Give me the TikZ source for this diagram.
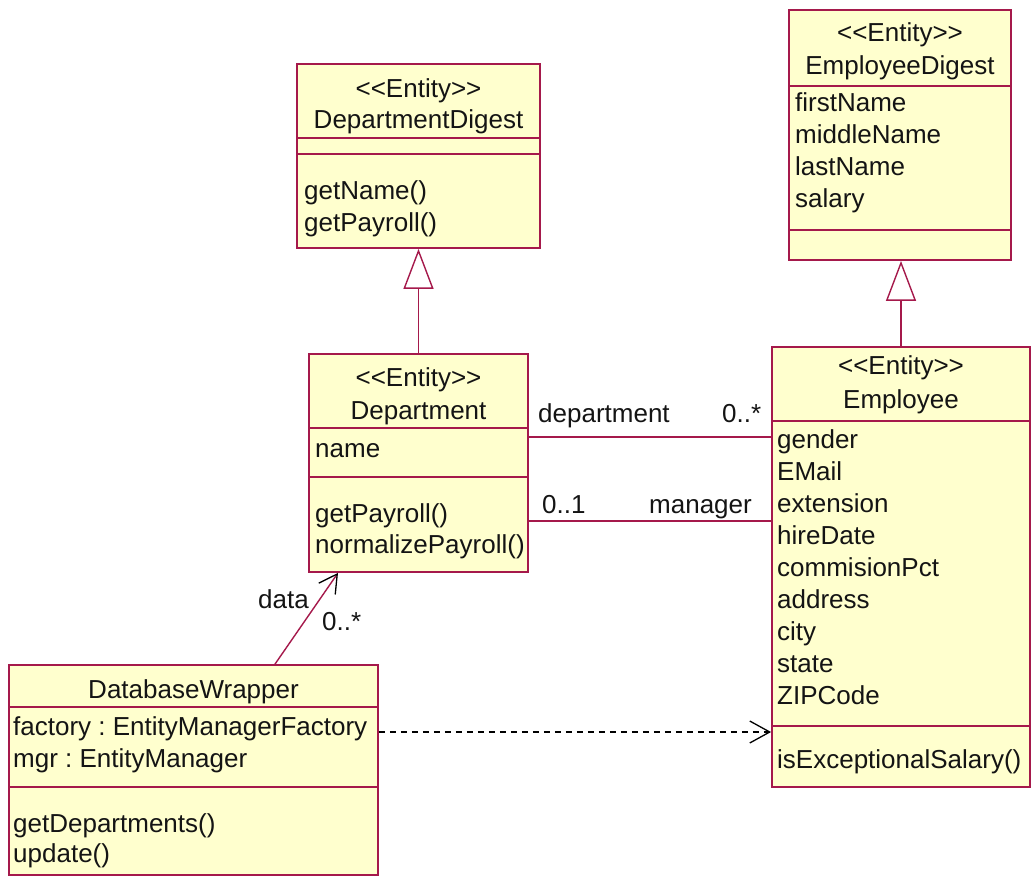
\documentclass[tikz,border=0pt]{standalone}
\usepackage{fontspec}
\setmainfont{Liberation Sans}
\usetikzlibrary{arrows.meta}
\definecolor{umlred}{RGB}{165,25,75}
\definecolor{umlfill}{RGB}{255,255,206}
\definecolor{umltext}{RGB}{20,20,20}
\newcommand\stereo[1]{<{}<#1>{}>}
\frenchspacing
\begin{document}
\begin{tikzpicture}[x=1pt,y=-1pt,
  font=\fontsize{26}{31}\selectfont,
  classbox/.style={draw=umlred, fill=umlfill, line width=1.8pt, rectangle, inner sep=0pt},
  sepline/.style={draw=umlred, line width=1.8pt},
  txt/.style={inner sep=0pt, anchor=base west, text=umltext},
  ctr/.style={inner sep=0pt, anchor=base, text=umltext},
  assoc/.style={draw=umlred, line width=1.8pt},
  gen/.style={draw=umlred, line width=1.8pt, -{Triangle[open, length=40pt, width=30pt, line width=1.4pt, color=umlred]}},
  nav/.style={draw=umlred, line width=1.4pt, -{Straight Barb[length=18pt, width=20pt, line width=1.3pt, color=black]}},
  dep/.style={draw=black, line width=1.4pt, dash pattern=on 6pt off 5pt, -{Straight Barb[length=20pt, width=22pt, line width=1.3pt]}}
]
\useasboundingbox (0,0) rectangle (1034,877);

% ---- class boxes ----
\node[classbox, minimum width=243pt, minimum height=184pt] (dd) at (418.5,156) {};
\node[classbox, minimum width=222pt, minimum height=250pt] (ed) at (900,135) {};
\node[classbox, minimum width=219pt, minimum height=218pt] (d) at (418.5,463) {};
\node[classbox, minimum width=258pt, minimum height=440pt] (emp) at (901,567) {};
\node[classbox, minimum width=369pt, minimum height=210pt] (dw) at (193.5,770) {};

% ---- compartment separators ----
\draw[sepline] (dd.west|-0,138) -- (dd.east|-0,138);
\draw[sepline] (dd.west|-0,154) -- (dd.east|-0,154);
\draw[sepline] (ed.west|-0,86) -- (ed.east|-0,86);
\draw[sepline] (ed.west|-0,230) -- (ed.east|-0,230);
\draw[sepline] (d.west|-0,428) -- (d.east|-0,428);
\draw[sepline] (d.west|-0,477) -- (d.east|-0,477);
\draw[sepline] (emp.west|-0,421) -- (emp.east|-0,421);
\draw[sepline] (emp.west|-0,726) -- (emp.east|-0,726);
\draw[sepline] (dw.west|-0,707) -- (dw.east|-0,707);
\draw[sepline] (dw.west|-0,787) -- (dw.east|-0,787);

% ---- DepartmentDigest ----
\node[ctr] (dd1) at (418.5,98) {\stereo{Entity}};
\node[ctr] (dd2) at (418.5,129) {DepartmentDigest};
\node[txt] (dd3) at (304,200) {getName()};
\node[txt] (dd4) at (304,232) {getPayroll()};

% ---- EmployeeDigest ----
\node[ctr] (ed1) at (900,42) {\stereo{Entity}};
\node[ctr] (ed2) at (900,75) {EmployeeDigest};
\node[txt] (ed3) at (795,112) {firstName};
\node[txt] (ed4) at (795,144) {middleName};
\node[txt] (ed5) at (795,176) {lastName};
\node[txt] (ed6) at (795,208) {salary};

% ---- Department ----
\node[ctr] (d1) at (418.5,387) {\stereo{Entity}};
\node[ctr] (d2) at (418.5,419) {Department};
\node[txt] (d3) at (315,457) {name};
\node[txt] (d4) at (315,522) {getPayroll()};
\node[txt] (d5) at (315,553) {normalizePayroll()};

% ---- Employee ----
\node[ctr] (e1) at (901,375) {\stereo{Entity}};
\node[ctr] (e2) at (901,408) {Employee};
\node[txt] (e3) at (777,448) {gender};
\node[txt] (e4) at (777,480) {EMail};
\node[txt] (e5) at (777,512) {extension};
\node[txt] (e6) at (777,544) {hireDate};
\node[txt] (e7) at (777,576) {commisionPct};
\node[txt] (e8) at (777,608) {address};
\node[txt] (e9) at (777,640) {city};
\node[txt] (e10) at (777,672) {state};
\node[txt] (e11) at (777,704) {ZIPCode};
\node[txt] (e12) at (777,768) {isExceptionalSalary()};

% ---- DatabaseWrapper ----
\node[ctr] (w1) at (193.5,698) {DatabaseWrapper};
\node[txt] (w2) at (13,735) {factory : EntityManagerFactory};
\node[txt] (w3) at (13,767) {mgr : EntityManager};
\node[txt] (w4) at (13,832) {getDepartments()};
\node[txt] (w5) at (13,862) {update()};

% ---- generalizations ----
\draw[gen] (d.north) -- (dd.south);
\draw[gen] (emp.north) -- (emp.north|-ed.south);

% ---- associations ----
\draw[assoc] (d.east|-0,437) -- (emp.west|-0,437);
\draw[assoc] (d.east|-0,521) -- (emp.west|-0,521);
\node[txt] (l1) at (538,422) {department};
\node[txt] (l2) at (722,422) {0..*};
\node[txt] (l3) at (542,513) {0..1};
\node[txt] (l4) at (649,513) {manager};

\draw[nav] ([xshift=81.5pt]dw.north) -- ([xshift=-80.5pt]d.south);
\node[txt] (l5) at (258,608) {data};
\node[txt] (l6) at (322,630) {0..*};

% ---- dependency ----
\coordinate (depy) at (0,732);
\draw[dep] (dw.east|-depy) -- (emp.west|-depy);
\end{tikzpicture}
\end{document}
